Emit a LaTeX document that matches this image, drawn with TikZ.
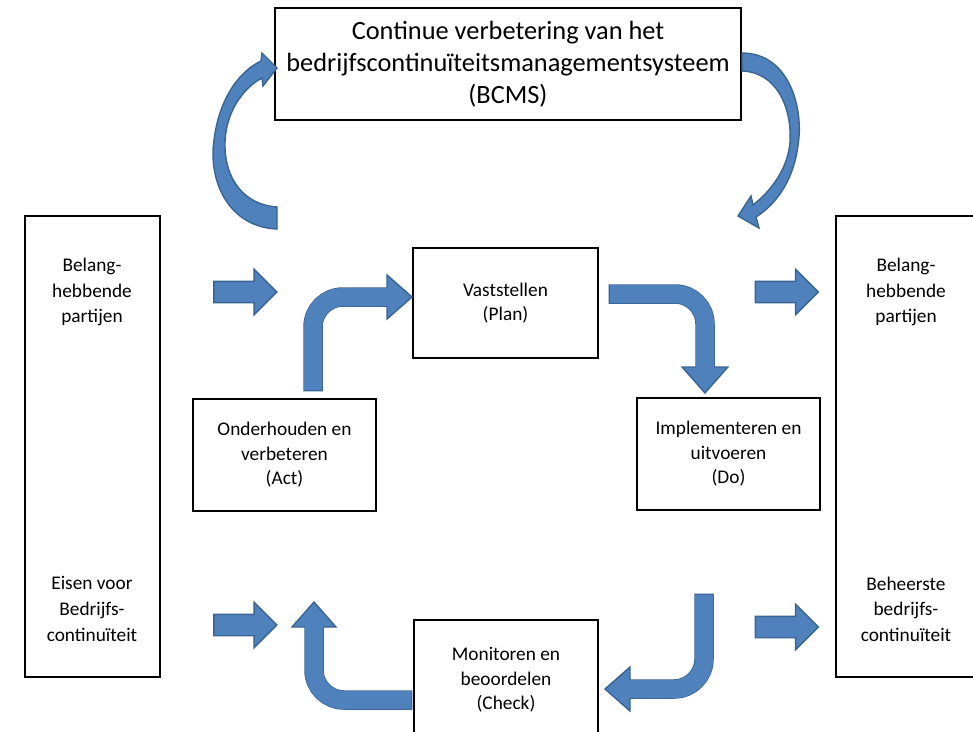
\documentclass[tikz,border=0pt]{standalone}
\usepackage{fontspec}
\setmainfont{Carlito}
\usetikzlibrary{calc,shapes.arrows}
\definecolor{pijlvul}{HTML}{4F81BD}
\definecolor{pijlrand}{HTML}{3A6491}

\begin{document}
\begin{tikzpicture}[x=0.02cm, y=-0.02cm]
\tikzset{blok/.style={draw, line width=1.5pt, align=center, inner sep=0pt, font=\fontsize{11}{13.9}\selectfont},
  tekst/.style={align=center, font=\fontsize{11}{14.6}\selectfont},
  pijl/.style={single arrow, draw=pijlrand, fill=pijlvul, line width=0.8pt, inner xsep=0pt, inner ysep=0.2cm, minimum width=0.88cm, minimum height=1.26cm, single arrow head extend=0.24cm},
  schachtrand/.style={draw=pijlrand, line width=0.39cm, rounded corners=0.6cm, shorten <=-0.8pt},
  schacht/.style={draw=pijlvul, line width=0.36cm, rounded corners=0.6cm, shorten >=-1pt},
  kop/.style={fill=pijlvul, draw=pijlrand, line width=0.8pt},
  kromme/.style={fill=pijlvul, draw=pijlrand, line width=0.8pt}}
\useasboundingbox (0,0) rectangle (973,731);
\clip (0,0) rectangle (973,731);
\node[blok, minimum width=9.32cm, minimum height=2.24cm, font=\fontsize{15}{18.1}\selectfont] (bcms) at (508,64) {Continue verbetering van het\\bedrijfscontinuïteitsmanagementsysteem\\(BCMS)};
\node[blok, minimum width=2.7cm, minimum height=9.22cm] (links) at (92.5,446.5) {};
\node[blok, minimum width=2.88cm, minimum height=9.22cm] (rechts) at (908,446.5) {};
\node[tekst] (links1) at (92,292) {Belang-\\hebbende\\partijen};
\node[tekst] (links2) at (92,609) {Eisen voor\\Bedrijfs-\\continuïteit};
\node[tekst] (rechts1) at (906,292) {Belang-\\hebbende\\partijen};
\node[tekst] (rechts2) at (906,609) {Beheerste\\bedrijfs-\\continuïteit};
\node[blok, minimum width=3.7cm, minimum height=2.2cm] (plan) at (505.5,303) {Vaststellen\\(Plan)};
\node[blok, minimum width=3.66cm, minimum height=2.24cm] (do) at (728.5,454) {Implementeren en\\uitvoeren\\(Do)};
\node[blok, minimum width=3.66cm, minimum height=2.24cm] (act) at (284.5,455) {Onderhouden en\\verbeteren\\(Act)};
\node[blok, minimum width=3.68cm, minimum height=2.4cm] (check) at (506,680) {Monitoren en\\beoordelen\\(Check)};
\node[pijl] (in1) at (240,292) {};
\node[pijl] (in2) at (240,625) {};
\node[pijl] (uit1) at (781.5,292) {};
\node[pijl] (uit2) at (781.5,627) {};
\coordinate (ap0) at (313,390);
\coordinate (ap1) at (387,297);
\coordinate (ap2) at (412,297);
\coordinate (pd0) at (610,294);
\coordinate (pd1) at (705,367);
\coordinate (pd2) at (705,393);
\coordinate (dc0) at (704,595);
\coordinate (dc1) at (630,689);
\coordinate (dc2) at (605,689);
\coordinate (ca0) at (411,700);
\coordinate (ca1) at (314,627);
\coordinate (ca2) at (314,602);
\draw[schachtrand] (ap0) |- (ap1);
\filldraw[kop] (ap2) -- ($(ap1)!0.88!90:(ap2)$) -- ($(ap1)!0.88!-90:(ap2)$) -- cycle;
\draw[schacht] (ap0) |- (ap1);
\draw[schachtrand] (pd0) -| (pd1);
\filldraw[kop] (pd2) -- ($(pd1)!0.88!90:(pd2)$) -- ($(pd1)!0.88!-90:(pd2)$) -- cycle;
\draw[schacht] (pd0) -| (pd1);
\draw[schachtrand] (dc0) |- (dc1);
\filldraw[kop] (dc2) -- ($(dc1)!0.88!90:(dc2)$) -- ($(dc1)!0.88!-90:(dc2)$) -- cycle;
\draw[schacht] (dc0) |- (dc1);
\draw[schachtrand] (ca0) -| (ca1);
\filldraw[kop] (ca2) -- ($(ca1)!0.88!90:(ca2)$) -- ($(ca1)!0.88!-90:(ca2)$) -- cycle;
\draw[schacht] (ca0) -| (ca1);
\filldraw[kromme] (277,229) .. controls (228,227) and (208,180) .. (214,140) .. controls (219,100) and (238,72) .. (261,61) -- (262,53) -- (277,68) -- (263,86) -- (262,78) .. controls (243,88) and (226,112) .. (225,142) .. controls (224,180) and (245,205) .. (277,207) -- cycle;
\filldraw[kromme] (742,53) .. controls (790,53) and (804,110) .. (798,145) .. controls (794,178) and (778,203) .. (756,217) -- (759,228) -- (738,216) -- (751,196) -- (753,205) .. controls (772,190) and (788,168) .. (790,142) .. controls (792,105) and (775,72) .. (742,71) -- cycle;
\end{tikzpicture}
\end{document}
